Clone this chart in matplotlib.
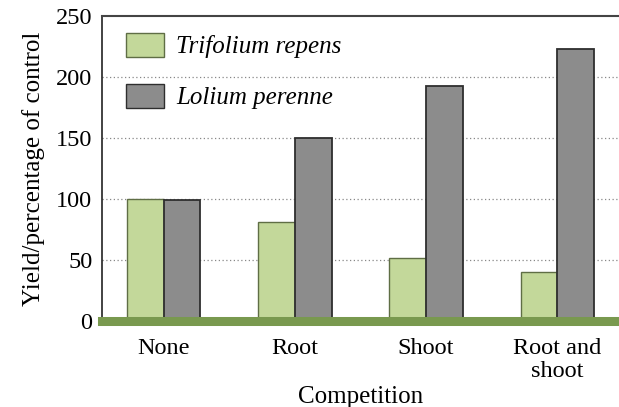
import numpy as np
import matplotlib
matplotlib.use("Agg")
import matplotlib.pyplot as plt
import matplotlib.patches as mptch

categories = ["None", "Root", "Shoot", "Root and\nshoot"]
trifolium = [100, 81, 52, 40]
lolium = [99, 150, 193, 223]
yticks = [0, 50, 100, 150, 200, 250]

plt.rcParams['font.family'] = ['Liberation Serif', 'DejaVu Serif']

fig = plt.figure(figsize=(6.19, 4.07), dpi=100)
ax = fig.add_axes([102/619, 1-321/407, 1-102/619, 305/407])

x = np.arange(len(categories))
w = 0.28
green = "#c3d89a"
gray = "#8c8c8c"
ax.bar(x-w/2, trifolium, w, color=green, edgecolor="#5f6e45", linewidth=1.0, zorder=3)
ax.bar(x+w/2, lolium, w, color=gray, edgecolor="#2e2e2e", linewidth=1.3, zorder=3)

ax.set_xlim(-0.47, 3.47)
ax.set_ylim(0, 250)
ax.set_yticks(yticks)
ax.set_xticks(x)
ax.set_xticklabels(categories, fontsize=17.5, linespacing=1.15)
ax.tick_params(axis="both", length=0, labelsize=17.5, pad=7)
ax.tick_params(axis="x", pad=12)

for v in yticks[1:-1]:
    ax.axhline(v, color="#888888", linestyle=(0, (1, 2)), linewidth=0.9, zorder=1)

# green ground strip
ax.axhline(0, color="#79994f", linewidth=6.5, zorder=4, clip_on=False)

for s in ["right", "bottom"]:
    ax.spines[s].set_visible(False)
ax.spines["left"].set_color("#222222")
ax.spines["left"].set_linewidth(1.2)
ax.spines["top"].set_color("#444444")
ax.spines["top"].set_linewidth(1.5)

ax.set_ylabel("Yield/percentage of control", fontsize=18, labelpad=8)
ax.set_xlabel("Competition", fontsize=18, labelpad=3)

green_patch = mptch.Patch(facecolor=green, edgecolor="#5f6e45", label="Trifolium repens")
gray_patch = mptch.Patch(facecolor=gray, edgecolor="#2e2e2e", label="Lolium perenne")
leg = ax.legend(handles=[green_patch, gray_patch], loc="upper left", frameon=False,
                prop={"style": "italic", "size": 18}, handlelength=1.5, handleheight=1.1,
                labelspacing=1.0, handletextpad=0.5, borderpad=0, borderaxespad=0,
                bbox_to_anchor=((126-102)/517, 1-(33-16)/305))

fig.savefig("out.png", dpi=100)
